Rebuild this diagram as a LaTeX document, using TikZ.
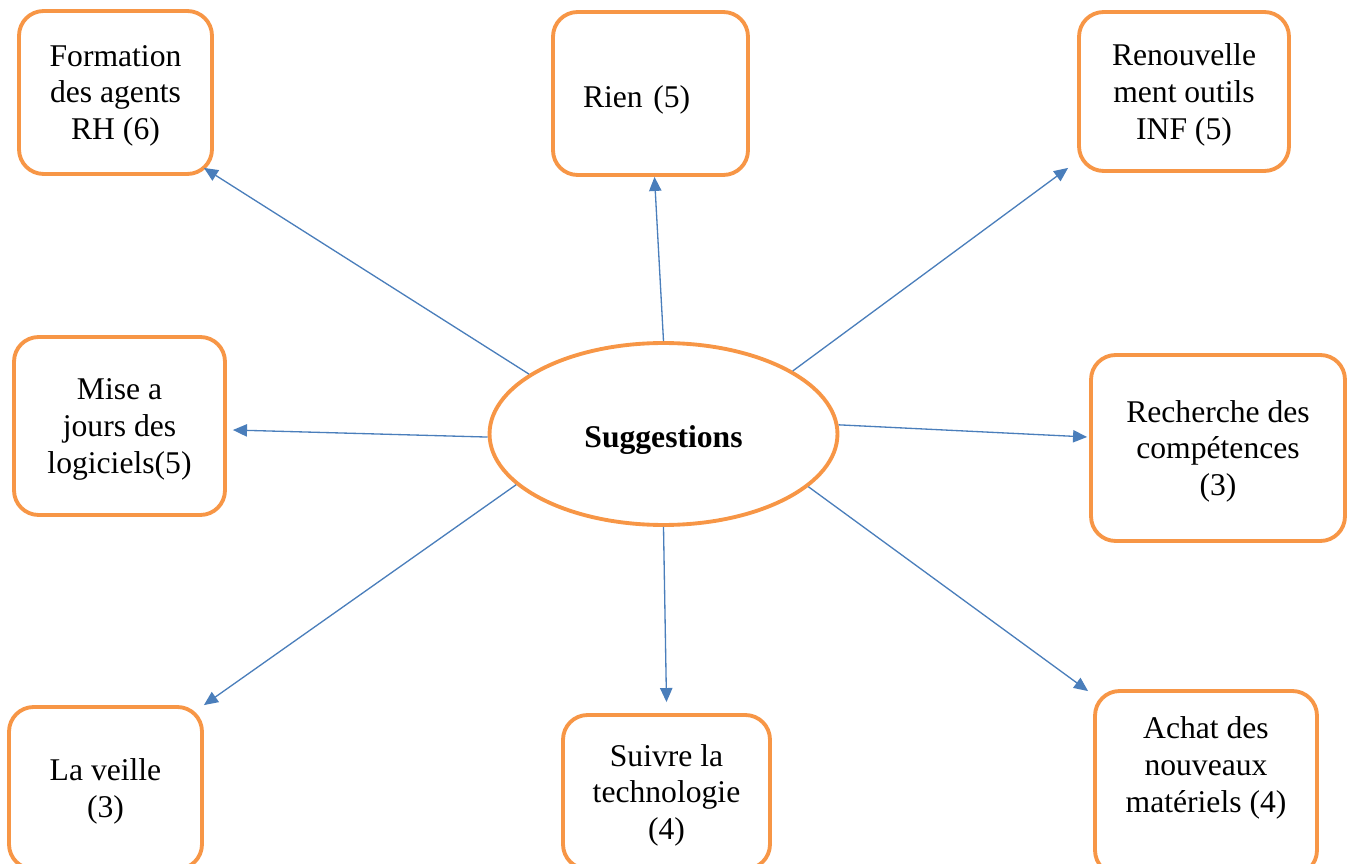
\documentclass[tikz,border=0pt]{standalone}
\usepackage{fontspec}
\setmainfont{Liberation Serif}
\usepackage{tikz}
\usetikzlibrary{shapes.geometric, arrows.meta}
\usepackage{xcolor}
\definecolor{orangebord}{HTML}{F79646}
\definecolor{bleulien}{HTML}{4A7EBB}
\tikzset{
	block/.style={draw=orangebord, line width=2.2pt, rounded corners=14pt, align=center, text depth=0pt, font=\fontsize{18}{21}\selectfont},
	centre/.style={ellipse, draw=orangebord, line width=2.2pt, text height=15pt, text depth=0pt, font=\fontsize{18}{21}\selectfont\bfseries},
	lien/.style={draw=bleulien, line width=0.75pt, -{Triangle[length=8pt, width=7pt]}}
}

\begin{document}
\begin{tikzpicture}[x=0.02cm, y=-0.02cm]
		\useasboundingbox (0,0) rectangle (1349,864);
		\clip (0,0) rectangle (1349,864);
		
		\node[centre, minimum width=6.96cm, minimum height=3.64cm] at (663.5, 434) (sug) {Suggestions};
		
		\node[block, minimum width=3.86cm, minimum height=3.26cm] at (115.5, 92.5) (form) {Formation\\des agents\\RH (6)};
		\node[block, align=left, text width=2.7cm, inner xsep=0.6cm, text height=16pt, minimum height=3.26cm] at (650.5, 93.5) (rien) {Rien (5)};
		\node[block, minimum width=4.2cm, minimum height=3.18cm] at (1184, 91.5) (renouv) {Renouvelle\\ment outils\\INF (5)};
		\node[block, minimum width=4.22cm, minimum height=3.56cm] at (119.5, 426) (mise) {Mise a\\jours des\\logiciels(5)};
		\node[block, minimum width=5.08cm, minimum height=3.72cm] at (1218, 448) (rech) {Recherche des\\comp\'etences\\(3)};
		% boites du bas coupees par le bord
		\node[block, minimum width=3.86cm, minimum height=3.24cm] at (105.5, 788) (veille) {La veille\\(3)};
		\node[block, minimum width=4.14cm, minimum height=3.08cm] at (666.5, 792) (suivre) {Suivre la\\technologie\\(4)};
		\node[block, minimum width=4.44cm, minimum height=3.68cm, text depth=21pt] at (1206, 783) (achat) {Achat des\\nouveaux\\mat\'eriels (4)};
		
		\draw[lien] (sug.156) -- ([shift={(-10,-8)}]form.south east);
		\draw[lien] (sug.north) -- ([shift={(4,0)}]rien.south);
		\draw[lien] (sug.26) -- ([shift={(-9,-5)}]renouv.south west);
		\draw[lien] (sug.181) -- ([shift={(6,4)}]mise.east);
		\draw[lien] (sug.3) -- ([shift={(-2,-11)}]rech.west);
		\draw[lien] (sug.199) -- (veille.north east);
		\draw[lien] (sug.south) -- ([shift={(0,-11)}]suivre.north);
		\draw[lien] (sug.340) -- ([shift={(-5,2)}]achat.north west);
	\end{tikzpicture}
\end{document}
